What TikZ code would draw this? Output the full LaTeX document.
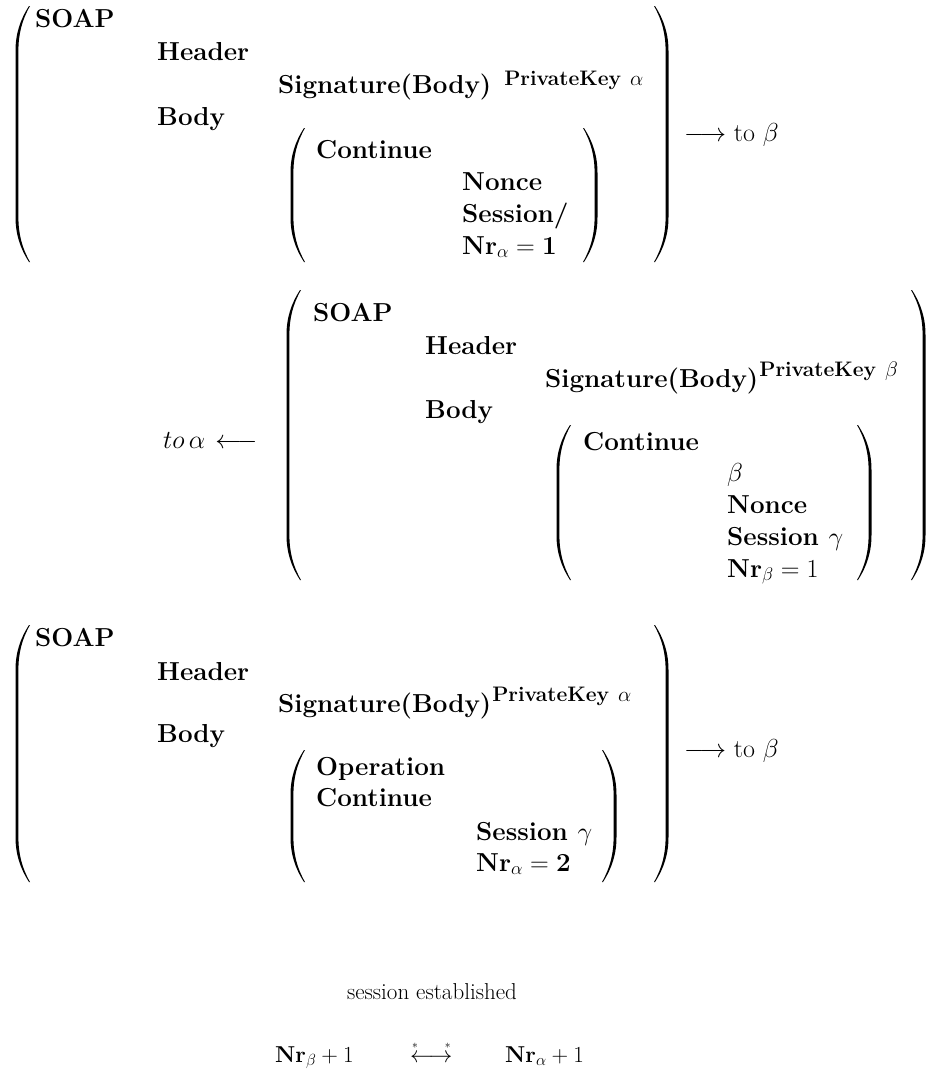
\RequirePackage{fix-cm}
\documentclass[tikz,border=0pt]{standalone}
\usepackage{amsmath}

% Tall delimiters drawn as filled crescents: x of the stem, top y, bottom y
\newcommand\lparenat[3]{%
  \fill (#1+12,#2) .. controls (#1+3,#2+14) and (#1-1.5,#2+28) .. (#1-1.5,#2+45)
    -- (#1-1.5,#3-45) .. controls (#1-1.5,#3-28) and (#1+3,#3-14) .. (#1+12,#3)
    -- (#1+13,#3) .. controls (#1+5,#3-14) and (#1+1.4,#3-28) .. (#1+1.4,#3-45)
    -- (#1+1.4,#2+45) .. controls (#1+1.4,#2+28) and (#1+5,#2+14) .. (#1+13,#2) -- cycle;}
\newcommand\rparenat[3]{%
  \fill (#1-12,#2) .. controls (#1-3,#2+14) and (#1+1.5,#2+28) .. (#1+1.5,#2+45)
    -- (#1+1.5,#3-45) .. controls (#1+1.5,#3-28) and (#1-3,#3-14) .. (#1-12,#3)
    -- (#1-13,#3) .. controls (#1-5,#3-14) and (#1-1.4,#3-28) .. (#1-1.4,#3-45)
    -- (#1-1.4,#2+45) .. controls (#1-1.4,#2+28) and (#1-5,#2+14) .. (#1-13,#2) -- cycle;}

% Key exponent: raise amount, key owner
\newcommand\keyexp[2]{\raisebox{#1}{\fontsize{21}{21}\selectfont\bfseries PrivateKey\hspace{9pt}$#2$}}

\tikzset{
  txt/.style={anchor=base west, inner sep=0pt, font=\fontsize{26}{31}\selectfont\bfseries},
  plain/.style={anchor=base west, inner sep=0pt, font=\fontsize{26}{31}\selectfont},
  foot/.style={anchor=base west, inner sep=0pt, font=\fontsize{23}{27}\selectfont},
}

\begin{document}
\begin{tikzpicture}[x=1pt,y=-1pt]
\useasboundingbox (0,0) rectangle (932,1072);

% ---- message 1: alpha -> beta
\lparenat{17}{6}{262}
\rparenat{667}{6}{262}
\node[txt] (a-soap) at (35,27) {SOAP};
\node[txt] (a-head) at (157,60) {Header};
\node[txt] (a-sig)  at (278,93) {Signature(Body)\hspace{13pt}\keyexp{8pt}{\alpha}};
\node[txt] (a-body) at (157,125) {Body};
\lparenat{292}{128}{262}
\rparenat{596}{128}{262}
\node[txt] (a-cont) at (316,158) {Continue};
\node[txt] (a-nonce) at (462,190) {Nonce};
\node[txt] (a-sess) at (462,222) {Session/};
\node[txt] (a-nr)   at (462,254) {$\mathbf{Nr}_\alpha = \mathbf{1}$};
\node[plain] (a-to) at (684,141) {$\longrightarrow$ to $\beta$};

% ---- message 2: beta -> alpha
\lparenat{288}{290}{580}
\rparenat{924}{290}{580}
\node[plain] (b-to) at (163,448) {$to\,\alpha\mkern2mu\longleftarrow$};
\node[txt] (b-soap) at (313,321) {SOAP};
\node[txt] (b-head) at (425,354) {Header};
\node[txt] (b-sig)  at (545,387) {Signature(Body)\hspace{1pt}\keyexp{11pt}{\beta}};
\node[txt] (b-body) at (425,418) {Body};
\lparenat{558}{425}{580}
\rparenat{870}{425}{580}
\node[txt] (b-cont) at (583,450) {Continue};
\node[txt] (b-beta) at (727,481) {$\beta$};
\node[txt] (b-nonce) at (727,513) {Nonce};
\node[txt] (b-sess) at (727,545) {Session $\gamma$};
\node[txt] (b-nr)   at (727,577) {$\mathbf{Nr}_\beta = 1$};

% ---- message 3: alpha -> beta
\lparenat{17}{625}{882}
\rparenat{667}{625}{882}
\node[txt] (c-soap) at (35,646) {SOAP};
\node[txt] (c-head) at (157,680) {Header};
\node[txt] (c-sig)  at (278,712) {Signature(Body)\hspace{1pt}\keyexp{11pt}{\alpha}};
\node[txt] (c-body) at (157,742) {Body};
\lparenat{292}{750}{882}
\rparenat{615}{750}{882}
\node[txt] (c-op)   at (316,775) {Operation};
\node[txt] (c-cont) at (316,806) {Continue};
\node[txt] (c-sess) at (476,840) {Session $\gamma$};
\node[txt] (c-nr)   at (476,871) {$\mathbf{Nr}_\alpha = \mathbf{2}$};
\node[plain] (c-to) at (684,757) {$\longrightarrow$ to $\beta$};

% ---- result
\node[foot, anchor=base] (est) at (432,999) {session established};
\node[foot] (nrb) at (275,1062) {$\mathbf{Nr}_\beta + 1$};
\node[foot] (arr) at (410,1062)
  {$\overset{\scriptscriptstyle *\hspace{27pt}*}{\longleftrightarrow}$};
\node[foot] (nra) at (505,1062) {$\mathbf{Nr}_\alpha + 1$};
\end{tikzpicture}
\end{document}
